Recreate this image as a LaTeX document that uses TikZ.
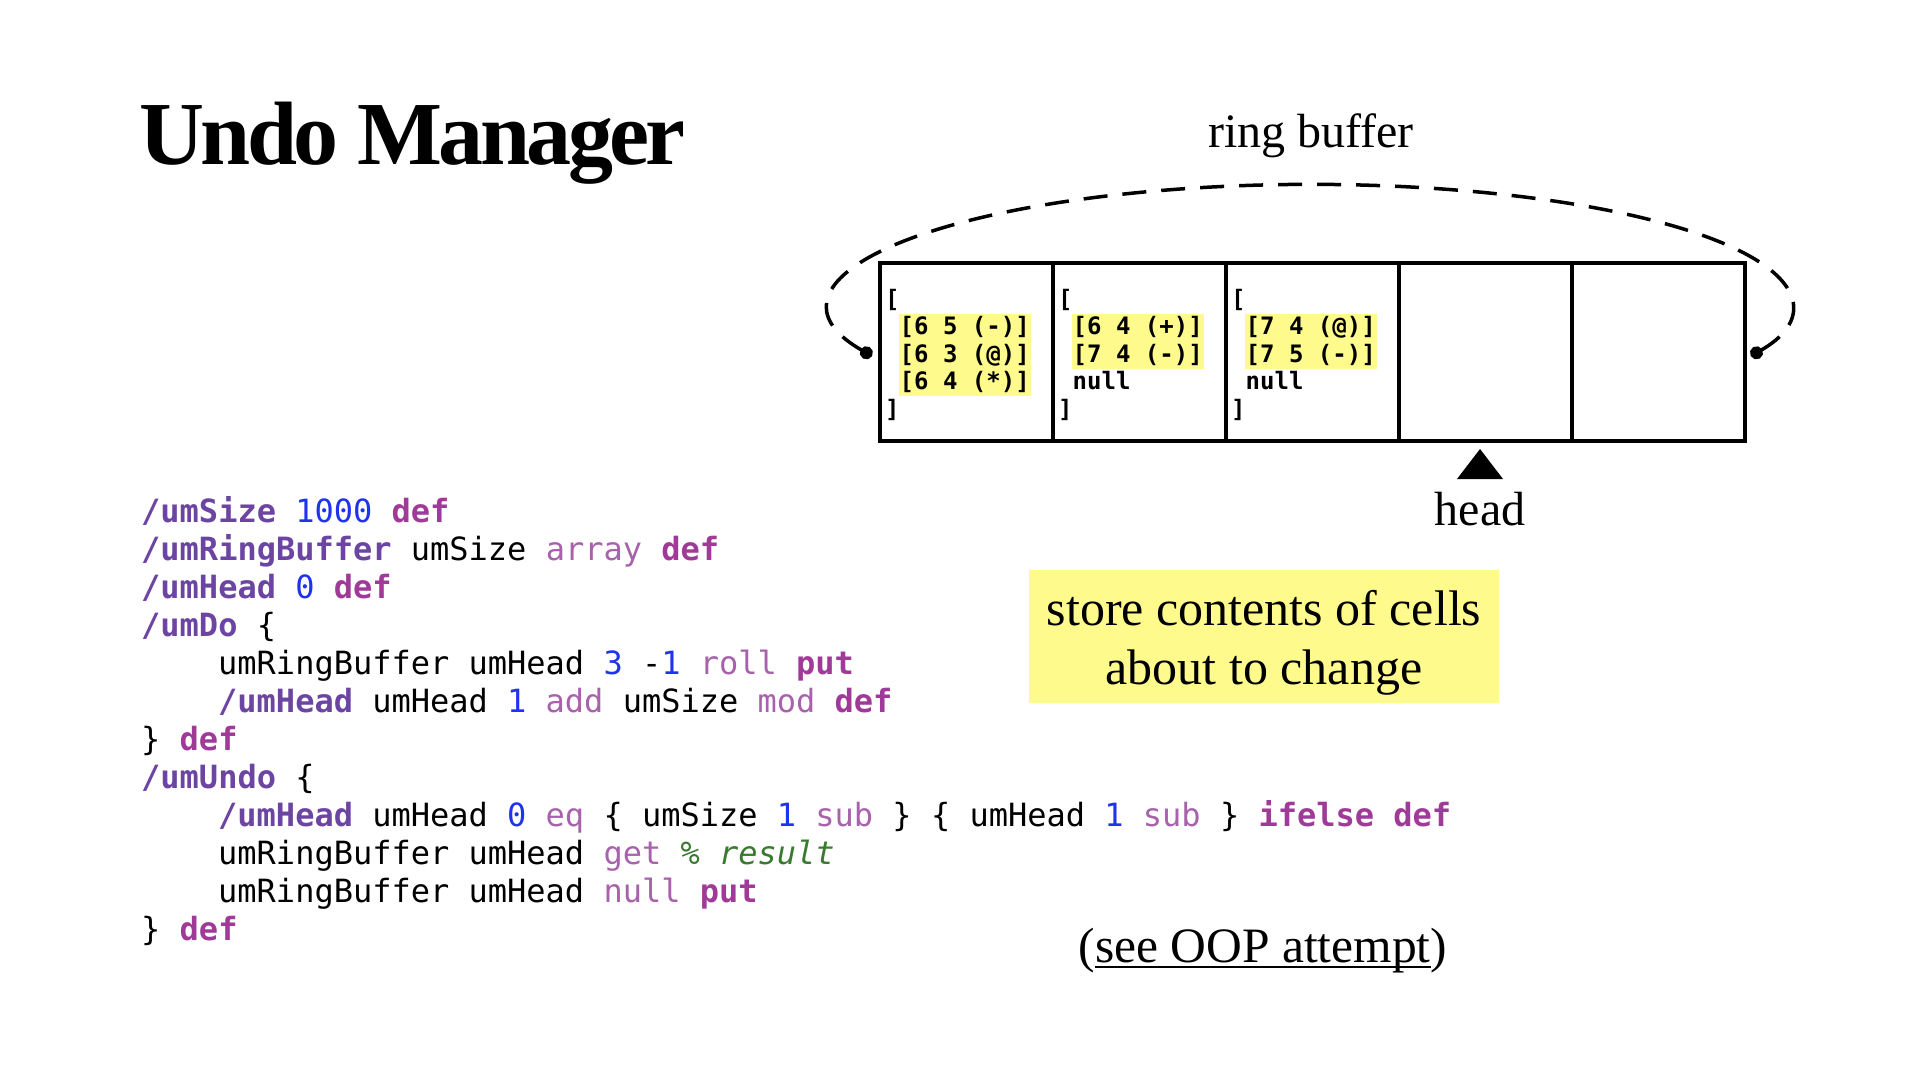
\documentclass[tikz,border=0pt]{standalone}
\usepackage{fontspec}
\setmainfont{Liberation Serif}
\newfontfamily\codefont{DejaVu Sans Mono}
\newfontfamily\titlefont{Liberation Serif}[LetterSpace=-4]
\usetikzlibrary{arrows.meta}
\definecolor{nmcol}{RGB}{108,69,163}
\definecolor{kwcol}{RGB}{160,58,152}
\definecolor{opcol}{RGB}{168,98,172}
\definecolor{numcol}{RGB}{30,50,240}
\definecolor{cmtcol}{RGB}{58,122,48}
\definecolor{hlyellow}{RGB}{255,250,140}
\newcommand\nmc[1]{\textcolor{nmcol}{\bfseries #1}}
\newcommand\kwc[1]{\textcolor{kwcol}{\bfseries #1}}
\newcommand\opc[1]{\textcolor{opcol}{#1}}
\newcommand\numc[1]{\textcolor{numcol}{#1}}
\newcommand\cmtc[1]{\textcolor{cmtcol}{\itshape #1}}
\newsavebox\myulbox
\newcommand\myul[1]{\sbox\myulbox{#1}\rlap{\rule[-6pt]{\wd\myulbox}{2pt}}\usebox\myulbox}
\begin{document}
\begin{tikzpicture}[x=1pt,y=-1pt,
  codeline/.style={anchor=base west, inner sep=0pt, font=\codefont\fontsize{32}{38}\selectfont},
  celltxt/.style={anchor=base west, inner sep=0pt, font=\codefont\bfseries\fontsize{24}{27.6}\selectfont},
  cellhl/.style={celltxt, fill=hlyellow, inner xsep=1pt, text height=21pt, text depth=6.6pt},
  cellbox/.style={draw, line width=3.5pt, minimum width=173pt, minimum height=178pt, inner sep=0pt},
  serif/.style={font=\fontsize{48}{58}\selectfont, inner sep=0pt, anchor=base},
  ringpath/.style={line width=3.5pt, dash pattern=on 24pt off 15pt, {Circle[length=13pt]}-{Circle[length=13pt]}},
  notebox/.style={fill=hlyellow, minimum width=470pt, minimum height=133pt, inner sep=0pt}]
\useasboundingbox (0,0) rectangle (1920,1080);
\fill[white] (0,0) rectangle (1920,1080);

% title
\node[anchor=base west, inner sep=0pt, font=\titlefont\bfseries\fontsize{90}{100}\selectfont] (title) at (139,164) {Undo Manager};

% ring buffer label
\node[serif] (ringlbl) at (1311,147) {ring buffer};

% cells
\node[cellbox] (c1) at (966.5,352) {};
\node[cellbox] (c2) at (1139.5,352) {};
\node[cellbox] (c3) at (1312.5,352) {};
\node[cellbox] (c4) at (1485.5,352) {};
\node[cellbox] (c5) at (1658.5,352) {};

% cell 1 contents
\node[celltxt] (c1l1) at (885,307) {[};
\node[cellhl] (c1l2) at (898.5,334.6) {[6 5 (-)]};
\node[cellhl] (c1l3) at (898.5,362.2) {[6 3 (@)]};
\node[cellhl] (c1l4) at (898.5,389.8) {[6 4 (*)]};
\node[celltxt] (c1l5) at (885,417.4) {]};
% cell 2 contents
\node[celltxt] (c2l1) at (1058,307) {[};
\node[cellhl] (c2l2) at (1071.5,334.6) {[6 4 (+)]};
\node[cellhl] (c2l3) at (1071.5,362.2) {[7 4 (-)]};
\node[celltxt] (c2l4) at (1072.5,389.8) {null};
\node[celltxt] (c2l5) at (1058,417.4) {]};
% cell 3 contents
\node[celltxt] (c3l1) at (1231,307) {[};
\node[cellhl] (c3l2) at (1244.5,334.6) {[7 4 (@)]};
\node[cellhl] (c3l3) at (1244.5,362.2) {[7 5 (-)]};
\node[celltxt] (c3l4) at (1245.5,389.8) {null};
\node[celltxt] (c3l5) at (1231,417.4) {]};

% ring connector
\coordinate (dotL) at (872,356);
\draw[ringpath] (dotL) arc[start angle=156, end angle=384, x radius=481, y radius=122] coordinate (dotR);

% head marker
\coordinate (headpt) at (1480,449);
\fill[black] (headpt) -- ++(23,30) -- ++(-46,0) -- cycle;
\node[serif] (headlbl) at (1480,525) {head};

% note
\node[notebox] (note) at (1264,636.5) {};
\node[serif, font=\fontsize{50}{59}\selectfont] (note1) at (1264,625) {store contents of cells};
\node[serif, font=\fontsize{50}{59}\selectfont] (note2) at (1264,684) {about to change};

% see OOP
\node[serif, font=\fontsize{49.5}{59}\selectfont] (oop) at (1263,962) {(\myul{see OOP attempt})};

% code
\node[codeline] (code1) at (141,522) {\nmc{/umSize} \numc{1000} \kwc{def}};
\node[codeline] (code2) at (141,560) {\nmc{/umRingBuffer} umSize \opc{array} \kwc{def}};
\node[codeline] (code3) at (141,598) {\nmc{/umHead} \numc{0} \kwc{def}};
\node[codeline] (code4) at (141,636) {\nmc{/umDo} \{};
\node[codeline] (code5) at (218,674) {umRingBuffer umHead \numc{3} -\numc{1} \opc{roll} \kwc{put}};
\node[codeline] (code6) at (218,712) {\nmc{/umHead} umHead \numc{1} \opc{add} umSize \opc{mod} \kwc{def}};
\node[codeline] (code7) at (141,750) {\} \kwc{def}};
\node[codeline] (code8) at (141,788) {\nmc{/umUndo} \{};
\node[codeline] (code9) at (218,826) {\nmc{/umHead} umHead \numc{0} \opc{eq} \{ umSize \numc{1} \opc{sub} \} \{ umHead \numc{1} \opc{sub} \} \kwc{ifelse def}};
\node[codeline] (code10) at (218,864) {umRingBuffer umHead \opc{get} \cmtc{\% result}};
\node[codeline] (code11) at (218,902) {umRingBuffer umHead \opc{null} \kwc{put}};
\node[codeline] (code12) at (141,940) {\} \kwc{def}};
\end{tikzpicture}
\end{document}
